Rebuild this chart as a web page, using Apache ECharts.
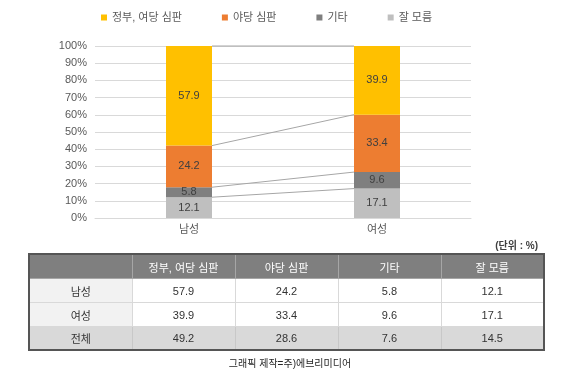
<!DOCTYPE html>
<html><head><meta charset="utf-8">
<script src="https://cdn.jsdelivr.net/npm/echarts@6/dist/echarts.min.js"></script>
<style>
html,body{margin:0;padding:0;background:#fff;}
#chart{position:absolute;left:0;top:0;width:580px;height:374px;}
#unit{position:absolute;right:42px;top:237px;font:bold 10px "Liberation Sans","Noto Sans CJK KR",sans-serif;color:#404040;}
#tbl{position:absolute;left:28px;top:253px;width:516px;border-collapse:collapse;border:2px solid #555;
 font:11px "Liberation Sans","Noto Sans CJK KR",sans-serif;color:#333;table-layout:fixed;}
#tbl td,#tbl th{text-align:center;padding:0;border:1px solid #d9d9d9;}
#tbl th{background:#7f7f7f;color:#fff;font-weight:normal;height:23px;border-color:#a6a6a6;}
#tbl td.h{background:#f2f2f2;}
#tbl tr.tot td{background:#d9d9d9;border-color:#c8c8c8;}
#credit{position:absolute;left:0;width:580px;top:355px;text-align:center;font:10px "Liberation Sans","Noto Sans CJK KR",sans-serif;color:#262626;}
</style></head>
<body>
<div id="chart"></div>
<div id="unit">(단위 : %)</div>
<table id="tbl"></table>
<div id="credit">그래픽 제작=주)에브리미디어</div>
<script>
const categories = ['남성', '여성'];
const seriesNames = ['정부, 여당 심판', '야당 심판', '기타', '잘 모름'];
const govJudge = [57.9, 39.9];
const oppJudge = [24.2, 33.4];
const other = [5.8, 9.6];
const unknown = [12.1, 17.1];
const totalRow = [49.2, 28.6, 7.6, 14.5];
const totalLabel = '전체';
const yTicks = [0, 10, 20, 30, 40, 50, 60, 70, 80, 90, 100];

const colors = {'정부, 여당 심판':'#FFC000','야당 심판':'#ED7D31','기타':'#7F7F7F','잘 모름':'#BFBFBF'};
const valuesByName = {'정부, 여당 심판':govJudge,'야당 심판':oppJudge,'기타':other,'잘 모름':unknown};
const stackOrder = ['잘 모름','기타','야당 심판','정부, 여당 심판'];
const BAR_W = 46;
const FONT = '"Liberation Sans","Noto Sans CJK KR",sans-serif';

// cumulative levels for connector lines
const levels = [];
let c0 = 0, c1 = 0;
stackOrder.forEach(n => { c0 += valuesByName[n][0]; c1 += valuesByName[n][1]; levels.push([0, +c0.toFixed(1), +c1.toFixed(1)]); });

const series = stackOrder.map(n => ({
  name: n, type: 'bar', stack: 'a', barWidth: BAR_W,
  itemStyle: {color: colors[n]},
  label: {show: true, position: 'inside', color: '#404040', fontSize: 11, fontFamily: FONT},
  data: valuesByName[n], z: 2
}));
series.push({
  type: 'custom', silent: true, z: 1,
  encode: {x: 0, y: [1, 2]},
  renderItem: function (params, api) {
    const p0 = api.coord([0, api.value(1)]);
    const p1 = api.coord([1, api.value(2)]);
    return {type: 'line', shape: {x1: p0[0] + BAR_W/2, y1: p0[1], x2: p1[0] - BAR_W/2, y2: p1[1]},
      style: {stroke: '#a6a6a6', lineWidth: 1}};
  },
  data: levels
});

const chart = echarts.init(document.getElementById('chart'));
chart.setOption({
  animation: false,
  legend: {
    data: seriesNames, top: 7, left: 96, itemWidth: 6, itemHeight: 6, itemGap: 40,
    icon: 'rect', textStyle: {color: '#595959', fontSize: 11, fontFamily: FONT}, itemStyle:{borderWidth:0}
  },
  grid: {left: 95, right: 109, top: 46, bottom: 156},
  xAxis: {type: 'category', data: categories,
    axisLine: {lineStyle: {color: '#d9d9d9'}}, axisTick: {show: false},
    axisLabel: {color: '#595959', fontSize: 11, fontFamily: FONT, margin: 6}},
  yAxis: {type: 'value', min: yTicks[0], max: yTicks[yTicks.length-1], interval: yTicks[1]-yTicks[0],
    axisLabel: {formatter: '{value}%', color: '#595959', fontSize: 11, fontFamily: FONT, margin: 8},
    splitLine: {lineStyle: {color: '#d9d9d9'}}, axisLine: {show: false}, axisTick: {show: false}},
  series: series
});

// table
const tbl = document.getElementById('tbl');
let html = '<colgroup>' + '<col style="width:103px">'.repeat(5) + '</colgroup>';
html += '<tr><th></th>' + seriesNames.map(n => '<th>' + n + '</th>').join('') + '</tr>';
categories.forEach((c, i) => {
  html += '<tr style="height:24px"><td class="h">' + c + '</td>' +
    seriesNames.map(n => '<td>' + valuesByName[n][i].toFixed(1) + '</td>').join('') + '</tr>';
});
html += '<tr class="tot" style="height:23px"><td>' + totalLabel + '</td>' + totalRow.map(v => '<td>' + v.toFixed(1) + '</td>').join('') + '</tr>';
tbl.innerHTML = html;
</script>
</body></html>
